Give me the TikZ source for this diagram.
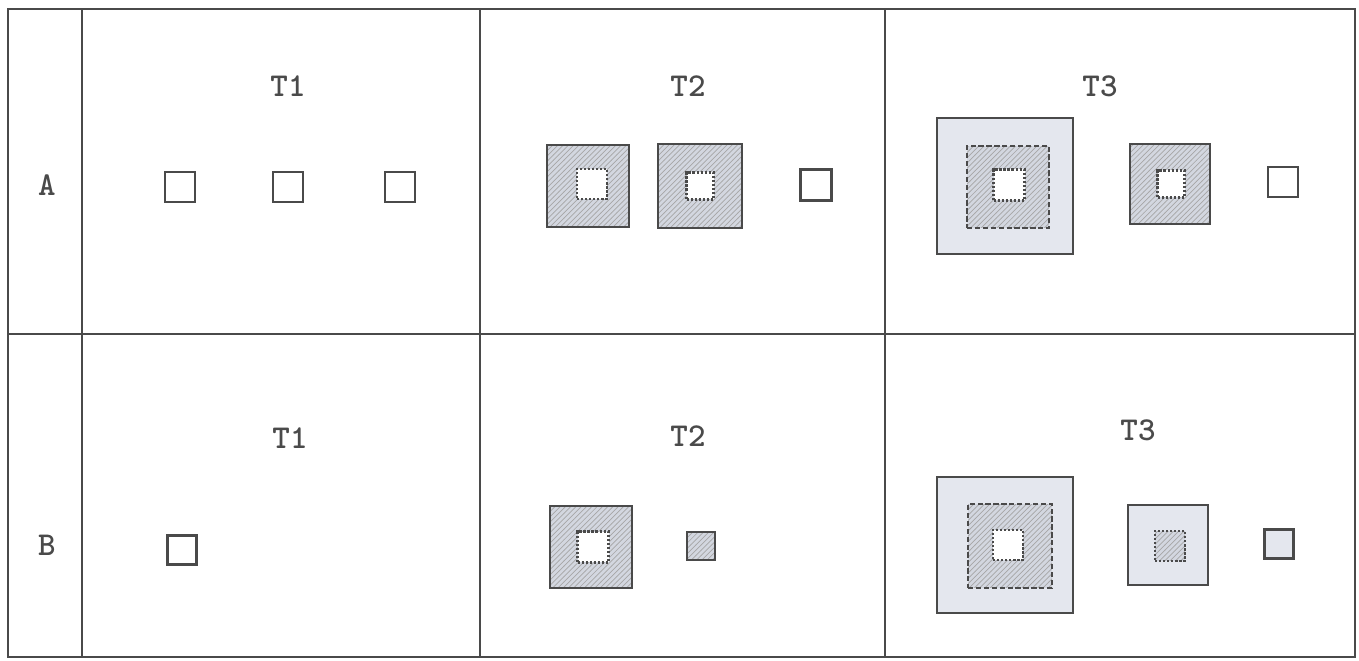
\documentclass[tikz,border=0pt]{standalone}
\usepackage{fontspec}
\newfontfamily\lblfont{lmmonolt10-bold}[Extension=.otf]
\usepackage{tikz}
\usetikzlibrary{patterns}
\definecolor{inkgray}{HTML}{4A4A4A}
\definecolor{lightfill}{HTML}{E4E7EE}
\definecolor{hatchfill}{HTML}{D3D7E0}
\tikzset{
  grid/.style={draw=inkgray,line width=1.2pt},
  lbl/.style={text=inkgray,font=\fontsize{19}{19}\selectfont\lblfont},
  cell/.style={draw=inkgray,line width=1.3pt,inner sep=0pt,minimum size=#1},
  plainsq/.style={cell=#1,fill=white},
  lightsq/.style={cell=#1,fill=lightfill},
  hatchsq/.style={cell=#1,preaction={fill=hatchfill},pattern=north east lines,pattern color=black!35},
  holesq/.style={cell=#1,fill=white,densely dotted},
  dashhatch/.style={hatchsq=#1,draw=none,postaction={draw=inkgray,dash pattern=on 3pt off 1.5pt}},
  dothatch/.style={hatchsq=#1,draw=none,postaction={draw=inkgray,densely dotted}}
}
\begin{document}
\begin{tikzpicture}[x=0.02cm,y=-0.02cm]
\useasboundingbox (0,0) rectangle (1359,661);
% table
\draw[grid] (8,9) rectangle (1355,657);
\draw[grid] (82,9) -- (82,657);
\draw[grid] (480,9) -- (480,657);
\draw[grid] (885,9) -- (885,657);
\draw[grid] (8,334) -- (1355,334);

\node[lbl] (rowA) at (47,185) {A};
\node[lbl] (rowB) at (47,545) {B};

% row A
\node[lbl] (aT1) at (288,86) {T1};
\node[lbl] (aT2) at (688,86) {T2};
\node[lbl] (aT3) at (1100,86) {T3};

\node[plainsq=0.6cm] (a1p) at (180,187) {};
\node[plainsq=0.6cm] (a1q) at (288,187) {};
\node[plainsq=0.6cm] (a1r) at (400,187) {};

\node[hatchsq=1.64cm] (a2p) at (588,186) {};
\node[holesq=0.6cm] (a2ph) at (592,184) {};
\node[hatchsq=1.68cm] (a2q) at (700,186) {};
\node[holesq=0.54cm] (a2qh) at (700,186) {};
\node[plainsq=0.62cm] (a2r) at (816,185) {};

\node[lightsq=2.72cm] (a3p) at (1005,186) {};
\node[dashhatch=1.64cm] (a3pm) at (1008,187) {};
\node[holesq=0.62cm] (a3ph) at (1009,185) {};
\node[hatchsq=1.6cm] (a3q) at (1170,184) {};
\node[holesq=0.54cm] (a3qh) at (1171,184) {};
\node[plainsq=0.6cm] (a3r) at (1283,182) {};

% row B
\node[lbl] (bT1) at (290,438) {T1};
\node[lbl] (bT2) at (688,436) {T2};
\node[lbl] (bT3) at (1138,430) {T3};

\node[plainsq=0.58cm] (b1p) at (182,550) {};

\node[hatchsq=1.64cm] (b2p) at (591,547) {};
\node[holesq=0.62cm] (b2ph) at (593,547) {};
\node[hatchsq=0.56cm] (b2q) at (701,546) {};

\node[lightsq=2.72cm] (b3p) at (1005,545) {};
\node[dashhatch=1.68cm] (b3pm) at (1010,546) {};
\node[holesq=0.6cm] (b3ph) at (1008,545) {};
\node[lightsq=1.6cm] (b3q) at (1168,545) {};
\node[dothatch=0.6cm] (b3qh) at (1170,546) {};
\node[lightsq=0.58cm] (b3r) at (1279,544) {};
\end{tikzpicture}
\end{document}
